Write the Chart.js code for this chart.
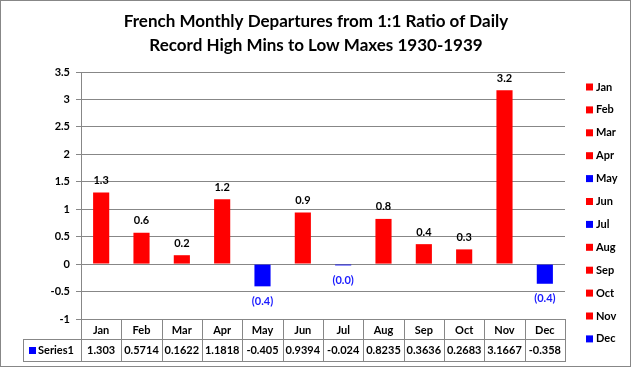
<!DOCTYPE html>
<html>
<head>
<meta charset="utf-8">
<script src="https://cdn.jsdelivr.net/npm/chart.js@4/dist/chart.umd.min.js"></script>
<style>
html,body{margin:0;padding:0;background:#fff;}
canvas{display:block;}
</style>
</head>
<body>
<canvas id="c" width="632" height="368"></canvas>
<script>
const titleLines = ['French Monthly Departures from 1:1 Ratio of Daily', 'Record High Mins to Low Maxes 1930-1939'];
const months = ['Jan','Feb','Mar','Apr','May','Jun','Jul','Aug','Sep','Oct','Nov','Dec'];
const values = [1.303, 0.5714, 0.1622, 1.1818, -0.405, 0.9394, -0.024, 0.8235, 0.3636, 0.2683, 3.1667, -0.358];
const seriesName = 'Series1';
const yMin = -1, yMax = 3.5, yStep = 0.5;

const FONT = 'Lato, "Open Sans", sans-serif';
const RED = '#ff0000', BLUE = '#0000ff', GRID = '#878787';
const barColors = values.map(v => v >= 0 ? RED : BLUE);

const extras = {
  id: 'extras',
  beforeDraw(chart) {
    const ctx = chart.ctx;
    ctx.save();
    ctx.fillStyle = '#fff';
    ctx.fillRect(0, 0, chart.width, chart.height);
    ctx.restore();
  },
  afterDraw(chart) {
    const ctx = chart.ctx;
    const x = chart.scales.x;
    const area = chart.chartArea;
    const meta = chart.getDatasetMeta(0);
    ctx.save();
    // title
    ctx.fillStyle = '#000';
    ctx.font = 'bold 17px ' + FONT;
    ctx.textAlign = 'center';
    ctx.textBaseline = 'middle';
    titleLines.forEach((t, i) => ctx.fillText(t, chart.width / 2, 22 + i * 24));
    // data labels
    ctx.font = 'bold 11px ' + FONT;
    meta.data.forEach((bar, i) => {
      const v = values[i];
      if (v >= 0) {
        ctx.fillStyle = '#000';
        ctx.fillText(v.toFixed(1), bar.x, bar.y - 12);
      } else {
        ctx.fillStyle = '#1a1aff';
        ctx.fillText('(' + Math.abs(v).toFixed(1) + ')', bar.x, bar.y + 15);
      }
    });
    // data table
    const top = area.bottom, mid = top + 20, bot = top + 42;
    const headLeft = 23;
    const colW = (area.right - area.left) / months.length;
    ctx.strokeStyle = GRID;
    ctx.lineWidth = 1;
    ctx.beginPath();
    ctx.moveTo(headLeft, Math.round(mid) + 0.5); ctx.lineTo(area.right, Math.round(mid) + 0.5);
    ctx.moveTo(headLeft, Math.round(bot) + 0.5); ctx.lineTo(area.right, Math.round(bot) + 0.5);
    ctx.moveTo(headLeft + 0.5, Math.round(mid)); ctx.lineTo(headLeft + 0.5, Math.round(bot) + 1);
    for (let i = 0; i <= months.length; i++) {
      const xx = Math.round(area.left + i * colW) + 0.5;
      ctx.moveTo(xx, Math.round(top)); ctx.lineTo(xx, Math.round(bot) + 1);
    }
    ctx.stroke();
    ctx.fillStyle = '#000';
    ctx.textAlign = 'center';
    months.forEach((m, i) => {
      const cx = x.getPixelForValue(i);
      ctx.fillText(m, cx, top + 11);
      ctx.fillText(String(values[i]), cx, mid + 11.5);
    });
    // row header
    ctx.fillStyle = BLUE;
    ctx.fillRect(29, mid + 8, 7, 7);
    ctx.fillStyle = '#000';
    ctx.textAlign = 'left';
    ctx.fillText(seriesName, 38, mid + 11.5);
    // legend
    const lx = 586, ly0 = 87, lstep = 22.9;
    months.forEach((m, i) => {
      const yy = ly0 + i * lstep;
      ctx.fillStyle = barColors[i];
      ctx.fillRect(lx, yy - 3.5, 7, 7);
      ctx.fillStyle = '#000';
      ctx.fillText(m, lx + 10, yy);
    });
    // outer border
    ctx.strokeStyle = GRID;
    ctx.strokeRect(0.5, 0.5, chart.width - 2, chart.height - 2);
    ctx.restore();
  }
};

new Chart(document.getElementById('c'), {
  type: 'bar',
  data: {
    labels: months,
    datasets: [{
      label: seriesName,
      data: values,
      backgroundColor: barColors,
      borderWidth: 0,
      barPercentage: 0.4,
      categoryPercentage: 1.0
    }]
  },
  options: {
    responsive: false,
    animation: false,
    devicePixelRatio: 1,
    layout: { padding: { left: 0, right: 67, top: 72, bottom: 49 } },
    plugins: {
      legend: { display: false },
      tooltip: { enabled: false },
      title: { display: false }
    },
    scales: {
      x: {
        display: false
      },
      y: {
        min: yMin,
        max: yMax,
        afterFit(scale) { scale.width = 81; },
        ticks: {
          stepSize: yStep,
          color: '#000',
          padding: 6,
          font: { family: FONT, size: 11, weight: 'bold' },
          callback: v => String(v)
        },
        grid: { color: GRID, tickLength: 5, drawTicks: true },
        border: { display: true, color: GRID }
      }
    }
  },
  plugins: [extras]
});
</script>
</body>
</html>
